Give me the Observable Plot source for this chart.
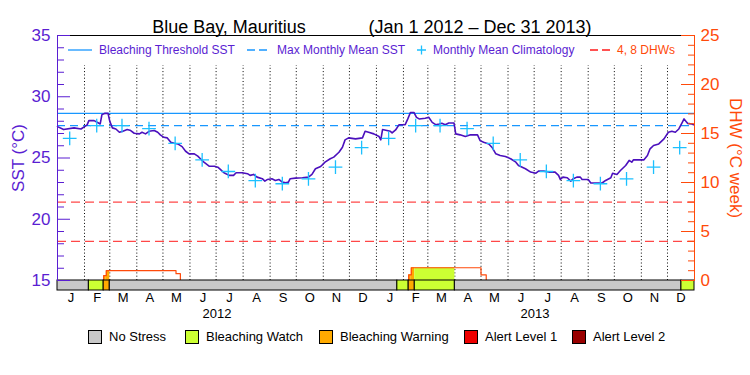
<!DOCTYPE html>
<html><head><meta charset="utf-8">
<script src="https://cdn.jsdelivr.net/npm/d3@7"></script>
<script src="https://cdn.jsdelivr.net/npm/@observablehq/plot@0.6"></script>
<style>
body{margin:0;background:#fff;}
#wrap{position:relative;width:750px;height:375px;font-family:"Liberation Sans",Arial,sans-serif;overflow:hidden;}
#wrap svg.plot{position:absolute;left:0;top:0;}
.abs{position:absolute;white-space:nowrap;font-size:12px;line-height:14px;}
.box{position:absolute;width:14px;height:14px;border:1px solid #000;box-sizing:border-box;}
</style></head><body><div id="wrap"></div>
<script>
// ---------- data ----------
const titleParts = ["Blue Bay, Mauritius", "(Jan 1 2012 \u2013 Dec 31 2013)"];
const sstDates = ["2012-01-01","2012-01-08","2012-01-20","2012-01-28","2012-02-04","2012-02-06","2012-02-12","2012-02-16","2012-02-19","2012-02-21","2012-02-24","2012-02-28","2012-03-01","2012-03-04","2012-03-08","2012-03-12","2012-03-16","2012-03-21","2012-03-25","2012-03-29","2012-04-04","2012-04-07","2012-04-11","2012-04-15","2012-04-21","2012-04-25","2012-04-28","2012-05-02","2012-05-06","2012-05-10","2012-05-14","2012-05-18","2012-05-23","2012-05-27","2012-05-31","2012-06-06","2012-06-10","2012-06-13","2012-06-17","2012-06-23","2012-06-29","2012-07-03","2012-07-08","2012-07-10","2012-07-16","2012-07-21","2012-07-24","2012-07-31","2012-08-06","2012-08-09","2012-08-13","2012-08-17","2012-08-23","2012-08-26","2012-08-29","2012-09-03","2012-09-07","2012-09-11","2012-09-15","2012-09-19","2012-09-22","2012-09-24","2012-09-30","2012-10-08","2012-10-15","2012-10-19","2012-10-23","2012-10-29","2012-11-03","2012-11-09","2012-11-13","2012-11-19","2012-11-23","2012-11-26","2012-11-30","2012-12-08","2012-12-16","2012-12-19","2012-12-23","2012-12-29","2013-01-04","2013-01-06","2013-01-08","2013-01-13","2013-01-17","2013-01-19","2013-01-23","2013-01-27","2013-02-03","2013-02-06","2013-02-09","2013-02-13","2013-02-16","2013-02-19","2013-02-26","2013-03-02","2013-03-06","2013-03-10","2013-03-14","2013-03-17","2013-03-21","2013-03-25","2013-03-31","2013-04-02","2013-04-07","2013-04-13","2013-04-19","2013-04-27","2013-04-30","2013-05-04","2013-05-10","2013-05-14","2013-05-18","2013-05-23","2013-05-29","2013-06-04","2013-06-10","2013-06-13","2013-06-21","2013-06-27","2013-07-03","2013-07-06","2013-07-12","2013-07-18","2013-07-25","2013-07-29","2013-07-31","2013-08-03","2013-08-08","2013-08-12","2013-08-15","2013-08-19","2013-08-23","2013-08-25","2013-09-01","2013-09-04","2013-09-17","2013-09-21","2013-09-27","2013-09-29","2013-10-04","2013-10-08","2013-10-14","2013-10-18","2013-10-21","2013-10-23","2013-11-04","2013-11-08","2013-11-11","2013-11-15","2013-11-21","2013-11-27","2013-12-02","2013-12-06","2013-12-10","2013-12-14","2013-12-18","2013-12-20","2013-12-24","2013-12-29","2013-12-31"];
const sstValues = [27.56,27.32,27.46,27.37,27.70,28.05,28.05,27.90,27.78,28.54,28.64,28.64,27.99,27.46,27.37,27.10,27.18,27.32,27.24,27.02,26.97,27.10,26.97,27.18,27.24,27.10,26.89,26.69,26.64,26.28,26.20,26.15,25.93,25.55,25.34,25.34,25.15,24.94,24.66,24.33,24.33,24.25,23.93,23.80,23.58,23.58,23.80,23.80,23.72,23.58,23.66,23.44,23.31,23.11,23.25,23.31,23.17,23.25,23.03,22.98,23.03,23.31,23.36,23.39,23.44,23.66,24.12,24.31,24.66,24.94,25.07,25.47,25.88,26.48,26.64,26.56,26.64,27.18,27.10,26.97,26.75,26.48,27.32,27.24,27.18,27.05,27.29,27.72,27.72,28.19,28.72,28.72,28.32,28.19,28.24,28.32,27.91,27.72,27.78,27.83,27.72,27.86,27.86,26.97,26.89,26.75,26.89,26.89,26.42,26.28,26.15,25.83,25.34,25.20,25.12,24.94,24.66,24.39,24.12,23.85,23.76,23.93,23.93,23.85,23.85,23.58,23.25,23.44,23.39,23.11,23.31,23.44,23.44,23.25,23.25,22.96,22.96,23.17,23.39,23.76,23.66,23.98,24.39,24.80,24.66,24.85,24.85,25.20,25.75,26.02,26.15,26.56,27.10,27.18,27.10,27.37,27.91,28.19,27.83,27.78,27.72];
const climYears = [2012, 2013];
const climValues = [26.6,27.65,27.65,27.4,26.2,24.85,23.9,23.15,22.9,23.3,24.25,25.85];
const maxMonthlyMean = 27.65;
const bleachingThreshold = 28.65;
const dhwLevels = [4, 8];
const stressStart = ["2012-01-01","2012-02-06","2012-02-23","2012-03-01","2013-01-25","2013-02-07","2013-02-14","2013-04-01","2013-12-17"];
const stressEnd   = ["2012-02-06","2012-02-23","2012-03-01","2013-01-25","2013-02-07","2013-02-14","2013-04-01","2013-12-17","2014-01-01"];
const stressLevel = [0,1,2,0,1,2,1,0,1];
const dhwStart = ["2012-02-23","2012-02-26","2012-05-16","2013-02-07","2013-02-10","2013-05-01"];
const dhwEnd   = ["2012-02-26","2012-05-16","2012-05-21","2013-02-10","2013-05-01","2013-05-07"];
const dhwValue = [0.5,1.0,0.7,0.58,1.3,0.58];
const dhwEvent = [1,1,1,2,2,2];
const monthLabels = ["J","F","M","A","M","J","J","A","S","O","N","D"];
const yearLabels = ["2012","2013"];
const sstTicks = [15,20,25,30,35];
const dhwTicks = [0,5,10,15,20,25];
const stressNames = ["No Stress","Bleaching Watch","Bleaching Warning","Alert Level 1","Alert Level 2"];
const stressColors = ["#c8c8c8","#ccff33","#ffaa00","#ee0000","#990000"];
const topLegend = ["Bleaching Threshold SST","Max Monthly Mean SST","Monthly Mean Climatology","4, 8 DHWs"];
const yLabelLeft = "SST (\u00b0C)";
const yLabelRight = "DHW (\u00b0C week)";

// ---------- build ----------
const PURPLE = "#5a1ed2", SSTLINE = "#4b10bd", ORANGE = "#ff4a0a", BLUE = "#1897ff", CYAN = "#1cc0ff", RED = "#ff1a1a";
const parse = d3.utcParse("%Y-%m-%d");
const x0 = parse("2012-01-01"), x1 = parse("2014-01-01");
const Y0 = 15, K = 20 / 25; // 0..25 DHW spans 15..35 degC
const toY = v => Y0 + v * K;
const BAR = 10 / 12.25;

const sst = sstDates.map((d, i) => ({date: parse(d), v: sstValues[i]}));
const clim = climYears.flatMap(y => climValues.map((v, m) => ({date: new Date(Date.UTC(y, m, 15)), v})));
const stress = stressStart.map((s, i) => ({a: parse(s), b: parse(stressEnd[i]), level: stressLevel[i]}));
const dhw = dhwStart.map((s, i) => ({a: parse(s), b: parse(dhwEnd[i]), v: dhwValue[i], ev: dhwEvent[i]}));
const dhwPts = [];
for (const ev of [...new Set(dhwEvent)]) {
  const segs = dhw.filter(d => d.ev === ev);
  dhwPts.push({date: segs[0].a, v: 0, ev});
  for (const s of segs) dhwPts.push({date: s.a, v: s.v, ev});
  dhwPts.push({date: segs[segs.length - 1].b, v: 0, ev});
}
const fills = [];
for (const s of stress) if (s.level > 0) for (const d of dhw) {
  const a = Math.max(+s.a, +d.a), b = Math.min(+s.b, +d.b);
  if (b > a) fills.push({a: new Date(a), b: new Date(b), v: d.v, level: s.level});
}
const monthStarts = d3.utcMonth.range(parse("2012-02-01"), x1);
const monthMids = d3.utcMonth.range(x0, x1).map(d => new Date(+d + (d3.utcMonth.offset(d, 1) - d) / 2));
const yearMids = yearLabels.map(y => new Date(Date.UTC(+y, 6, 2)));
const minorL = d3.range(15, 36).filter(v => v % 5);
const minorR = d3.range(0, 26).filter(v => v % 5).map(toY);

const chart = Plot.plot({
  width: 750, height: 375,
  marginLeft: 57, marginRight: 56, marginTop: 35, marginBottom: 95,
  x: {type: "utc", domain: [x0, x1]},
  y: {domain: [15, 35]},
  style: {fontFamily: '"Liberation Sans", Arial, sans-serif', background: "transparent", overflow: "visible"},
  marks: [
    Plot.ruleX(monthStarts, {y1: 15, y2: 32.55, stroke: "#000", strokeDasharray: "1,2.3"}),
    Plot.ruleY(dhwLevels, {y: d => toY(d), stroke: RED, strokeDasharray: "9,5"}),
    Plot.ruleY([maxMonthlyMean], {stroke: BLUE, strokeDasharray: "8,5", strokeWidth: 1.2}),
    Plot.ruleY([bleachingThreshold], {stroke: BLUE, strokeWidth: 1.2}),
    Plot.rect(fills, {x1: "a", x2: "b", y1: 15, y2: d => toY(d.v), fill: d => stressColors[d.level]}),
    Plot.line(dhwPts, {x: "date", y: d => toY(d.v), z: "ev", curve: "step-after", stroke: ORANGE, strokeWidth: 1.2}),
    Plot.line(sst, {x: "date", y: "v", stroke: SSTLINE, strokeWidth: 1.6}),
    Plot.dot(clim, {x: "date", y: "v", symbol: "plus", r: 4.5, stroke: CYAN, strokeWidth: 1.3}),
    Plot.rect(stress, {x1: "a", x2: "b", y1: 15 - BAR, y2: 15, fill: d => stressColors[d.level], stroke: "#000", strokeWidth: 1}),
    Plot.ruleY([35], {stroke: "#000"}),
    Plot.ruleX([x0], {y1: 15, y2: 35, stroke: PURPLE}),
    Plot.ruleX([x1], {y1: 15, y2: 35, stroke: ORANGE}),
    Plot.axisY({ticks: sstTicks, anchor: "left", tickSize: 13, dx: 13, fill: "none", stroke: PURPLE, label: null}),
    Plot.axisY({ticks: minorL, anchor: "left", tickSize: 7, dx: 7, fill: "none", stroke: PURPLE, label: null}),
    Plot.axisY({ticks: sstTicks, anchor: "left", tickSize: 0, tickPadding: 7, fill: PURPLE, fontSize: 17, label: null}),
    Plot.axisY({ticks: dhwTicks.map(toY), anchor: "right", tickSize: 14, dx: -14, fill: "none", stroke: ORANGE, label: null}),
    Plot.axisY({ticks: minorR, anchor: "right", tickSize: 7, dx: -7, fill: "none", stroke: ORANGE, label: null}),
    Plot.axisY({ticks: dhwTicks.map(toY), anchor: "right", tickSize: 0, tickPadding: 6, tickFormat: d => String(Math.round((d - Y0) / K)), fill: ORANGE, fontSize: 17, label: null}),
    Plot.axisX({ticks: monthMids, tickSize: 0, tickPadding: 12, tickFormat: d => monthLabels[d.getUTCMonth()], fontSize: 13, fill: "#000", label: null}),
    Plot.axisX({ticks: yearMids, tickSize: 0, tickPadding: 28, tickFormat: d => yearLabels[d.getUTCFullYear() - 2012], fontSize: 13, fill: "#000", label: null}),
    Plot.text([titleParts[0]], {frameAnchor: "top", dx: -147, dy: -15, fontSize: 18, fill: "#000"}),
    Plot.text([titleParts[1]], {frameAnchor: "top", dx: 104, dy: -15, fontSize: 18, fill: "#000", letterSpacing: 0.5}),
    Plot.text([yLabelLeft], {frameAnchor: "left", textAnchor: "middle", dx: -39, rotate: -90, fontSize: 17, fill: PURPLE}),
    Plot.text([yLabelRight], {frameAnchor: "right", textAnchor: "middle", dx: 41, rotate: 90, fontSize: 17, fill: ORANGE})
  ]
});
chart.classList.add("plot");
const wrap = document.getElementById("wrap");
wrap.appendChild(chart);

function add(html) { wrap.insertAdjacentHTML("beforeend", html); }
add(`<svg class="abs" style="left:66px;top:44px" width="30" height="12"><line x1="2" x2="26" y1="6" y2="6" stroke="${BLUE}" stroke-width="1.3"/></svg>`);
add(`<span class="abs" style="left:99px;top:43px;color:${PURPLE}">${topLegend[0]}</span>`);
add(`<svg class="abs" style="left:245px;top:44px" width="26" height="12"><line x1="2" x2="22" y1="6" y2="6" stroke="${BLUE}" stroke-width="1.3" stroke-dasharray="8,4"/></svg>`);
add(`<span class="abs" style="left:277px;top:43px;color:${PURPLE}">${topLegend[1]}</span>`);
add(`<svg class="abs" style="left:415px;top:44px" width="14" height="12"><path d="M2,6H11M6.5,1.5V10.5" stroke="${CYAN}" stroke-width="1.3"/></svg>`);
add(`<span class="abs" style="left:433px;top:43px;color:${PURPLE}">${topLegend[2]}</span>`);
add(`<svg class="abs" style="left:588px;top:44px" width="26" height="12"><line x1="2" x2="22" y1="6" y2="6" stroke="${RED}" stroke-width="1.3" stroke-dasharray="8,4"/></svg>`);
add(`<span class="abs" style="left:617px;top:43px;color:${ORANGE}">${topLegend[3]}</span>`);
const boxX = [88, 185, 319, 464, 572];
stressNames.forEach((n, i) => {
  add(`<div class="box" style="left:${boxX[i]}px;top:330px;background:${stressColors[i]}"></div>`);
  add(`<span class="abs" style="left:${boxX[i] + 21}px;top:330px;font-size:13px;color:#000">${n}</span>`);
});
</script></body></html>
